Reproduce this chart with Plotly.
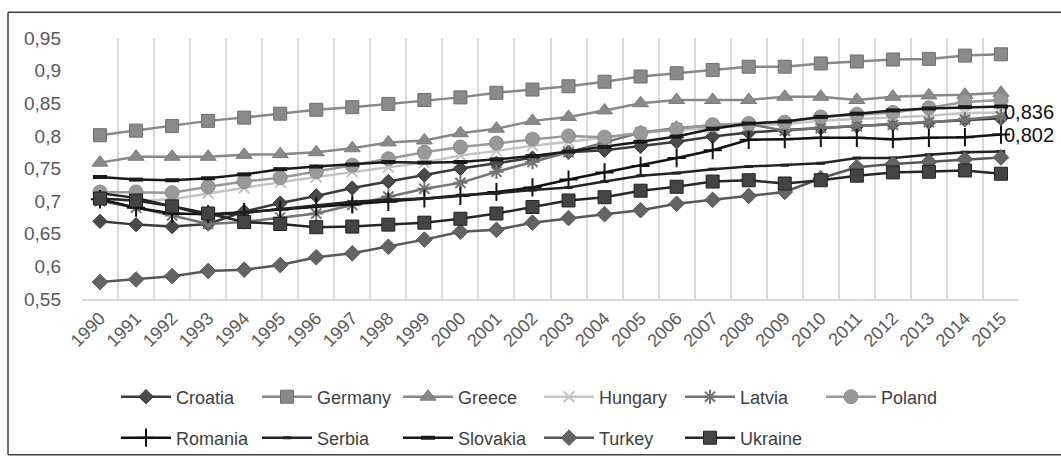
import plotly.graph_objects as go

years = [str(y) for y in range(1990, 2016)]

croatia = [0.669,0.664,0.661,0.665,0.684,0.697,0.708,0.720,0.730,0.740,0.750,0.758,0.766,0.775,0.778,0.784,0.791,0.799,0.805,0.809,0.812,0.815,0.818,0.821,0.825,0.827]
germany = [0.801,0.808,0.815,0.823,0.828,0.834,0.840,0.844,0.849,0.855,0.859,0.866,0.871,0.876,0.883,0.891,0.896,0.901,0.906,0.906,0.911,0.914,0.917,0.918,0.923,0.925]
greece = [0.759,0.768,0.768,0.768,0.771,0.772,0.775,0.781,0.790,0.793,0.804,0.811,0.823,0.829,0.839,0.850,0.855,0.855,0.855,0.860,0.860,0.855,0.860,0.862,0.863,0.866]
hungary = [0.704,0.700,0.703,0.712,0.720,0.729,0.737,0.745,0.752,0.759,0.770,0.777,0.785,0.791,0.797,0.805,0.809,0.812,0.816,0.818,0.823,0.826,0.828,0.831,0.835,0.836]
latvia = [0.700,0.690,0.678,0.665,0.668,0.675,0.681,0.694,0.707,0.719,0.728,0.745,0.760,0.775,0.790,0.805,0.812,0.816,0.818,0.808,0.812,0.815,0.817,0.821,0.825,0.830]
poland = [0.714,0.714,0.713,0.722,0.730,0.736,0.745,0.755,0.765,0.775,0.783,0.789,0.795,0.800,0.798,0.804,0.810,0.817,0.819,0.821,0.829,0.833,0.836,0.843,0.852,0.855]
romania = [0.703,0.690,0.681,0.680,0.683,0.687,0.692,0.695,0.699,0.704,0.708,0.714,0.721,0.733,0.744,0.754,0.766,0.778,0.794,0.795,0.797,0.797,0.795,0.797,0.798,0.802]
serbia = [0.712,0.705,0.692,0.678,0.682,0.688,0.693,0.699,0.702,0.704,0.709,0.712,0.717,0.721,0.730,0.739,0.743,0.749,0.753,0.755,0.758,0.766,0.766,0.771,0.775,0.776]
slovakia = [0.737,0.733,0.732,0.735,0.741,0.749,0.753,0.756,0.760,0.759,0.760,0.764,0.769,0.776,0.783,0.791,0.799,0.811,0.819,0.822,0.829,0.834,0.839,0.842,0.844,0.845]
turkey = [0.576,0.580,0.585,0.593,0.595,0.602,0.614,0.620,0.630,0.641,0.653,0.656,0.667,0.674,0.680,0.686,0.696,0.702,0.708,0.714,0.735,0.752,0.757,0.760,0.764,0.767]
ukraine = [0.704,0.701,0.692,0.681,0.668,0.665,0.660,0.661,0.664,0.667,0.673,0.681,0.691,0.701,0.706,0.716,0.722,0.730,0.732,0.727,0.732,0.739,0.744,0.745,0.747,0.742]

labelled = ["Hungary", "Romania"]

series = [
    ("Croatia", croatia, dict(symbol="diamond", size=11, color="#4a4a4a", line=dict(color="#333333", width=1)), "#3a3a3a", "legend"),
    ("Germany", germany, dict(symbol="square", size=13, color="#8a8a8a", line=dict(color="#6e6e6e", width=1)), "#888888", "legend"),
    ("Greece", greece, dict(symbol="triangle-up", size=14, color="#8a8a8a", line=dict(color="#7a7a7a", width=1)), "#888888", "legend"),
    ("Hungary", hungary, dict(symbol="x-thin-open", size=11, color="#c4c4c4", line=dict(color="#c4c4c4", width=2)), "#c4c4c4", "legend"),
    ("Latvia", latvia, dict(symbol="asterisk-open", size=12, color="#737373", line=dict(color="#737373", width=2)), "#737373", "legend"),
    ("Poland", poland, dict(symbol="circle", size=14, color="#999999", line=dict(color="#8c8c8c", width=1)), "#999999", "legend"),
    ("Romania", romania, dict(symbol="cross-thin-open", size=13, color="#111111", line=dict(color="#111111", width=2)), "#111111", "legend2"),
    ("Serbia", serbia, dict(symbol="line-ew-open", size=6, color="#222222", line=dict(color="#222222", width=3)), "#222222", "legend2"),
    ("Slovakia", slovakia, dict(symbol="line-ew-open", size=10, color="#1a1a1a", line=dict(color="#1a1a1a", width=4)), "#1a1a1a", "legend2"),
    ("Turkey", turkey, dict(symbol="diamond", size=12, color="#646464", line=dict(color="#555555", width=1)), "#575757", "legend2"),
    ("Ukraine", ukraine, dict(symbol="square", size=13, color="#444444", line=dict(color="#222222", width=1)), "#262626", "legend2"),
]

fig = go.Figure()
annotations = []
for name, vals, marker, lcolor, leg in series:
    fig.add_trace(go.Scatter(
        x=years, y=vals, name=name, mode="lines+markers",
        marker=marker, line=dict(color=lcolor, width=2.5),
        legend=leg, cliponaxis=False,
    ))
    if name in labelled:
        annotations.append(dict(
            x=len(years) - 1, y=vals[-1], xref="x", yref="y",
            text=f"{vals[-1]:.3f}".replace(".", ","), showarrow=False,
            xanchor="left", yanchor="middle", xshift=1,
            font=dict(family="Liberation Sans", size=20, color="#111111"),
        ))

W, H = 1061, 463
legend_common = dict(
    orientation="h", xref="container", yref="container",
    xanchor="left", yanchor="middle",
    font=dict(family="Liberation Sans", size=18, color="#404040"),
    entrywidth=76, entrywidthmode="pixels", itemwidth=50,
    bgcolor="rgba(0,0,0,0)", traceorder="normal",
)

# outer chart border (left, top, bottom edges; right edge lies outside the picture)
px = lambda p: (p - 82) / 937
py = lambda p: (299 - p) / 261.3
border = dict(color="#404040", width=1.5)
shapes = [
    dict(type="line", xref="paper", yref="paper", x0=px(8), x1=px(1100), y0=py(12), y1=py(12), line=border),
    dict(type="line", xref="paper", yref="paper", x0=px(8), x1=px(8), y0=py(12), y1=py(455), line=border),
    dict(type="line", xref="paper", yref="paper", x0=px(8), x1=px(1100), y0=py(455), y1=py(455), line=border),
]

fig.update_layout(
    width=W, height=H,
    margin=dict(l=82, r=42, t=38, b=164),
    paper_bgcolor="white", plot_bgcolor="white",
    separators=", ",
    font=dict(family="Liberation Sans", color="#595959"),
    legend=dict(x=116 / W, y=1 - 397 / H, **legend_common),
    legend2=dict(x=116 / W, y=1 - 438 / H, **legend_common),
    annotations=annotations,
    xaxis=dict(
        type="category", tickson="boundaries", showgrid=True, gridcolor="#d9d9d9", gridwidth=1.5,
        showline=True, linecolor="#d9d9d9", linewidth=1.5, ticks="", tickangle=-45,
        tickfont=dict(size=18, color="#595959"), range=[-0.5, 25.5],
    ),
    yaxis=dict(
        range=[0.55, 0.95], dtick=0.05, tick0=0.55, showgrid=False, zeroline=False,
        showline=False, tickfont=dict(size=19, color="#595959"), ticklabelstandoff=20,
    ),
    shapes=shapes,
)

fig.write_html("out.html", config={"displayModeBar": False},
               post_script="document.body.style.margin='0px';document.body.style.overflow='hidden';")
